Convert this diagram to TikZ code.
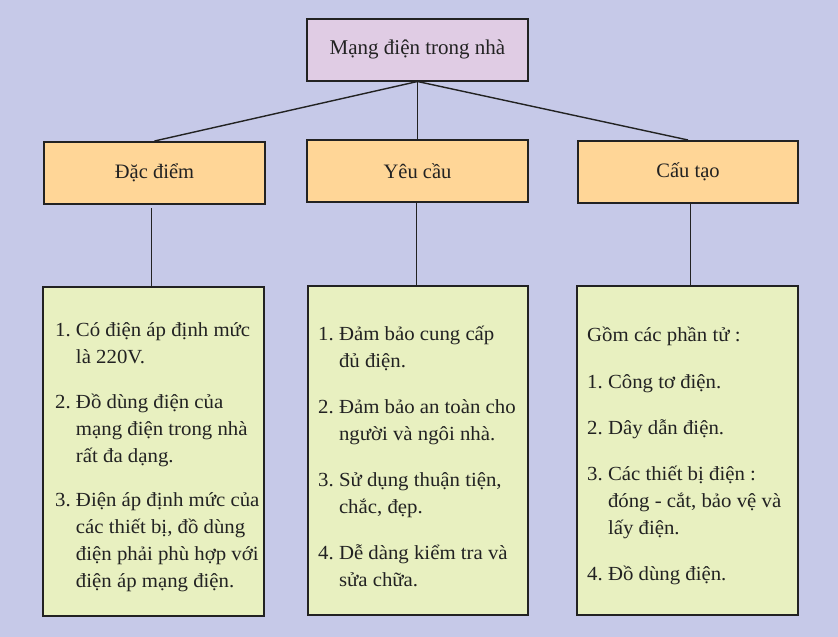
\documentclass[tikz,border=0pt]{standalone}
\usepackage{fontspec}
\setmainfont{Liberation Serif}
\newfontfamily\bodyfont[FakeStretch=1.04]{Liberation Serif}
\definecolor{bgc}{HTML}{C6C9E8}
\definecolor{topc}{HTML}{E0CCE4}
\definecolor{midc}{HTML}{FFD697}
\definecolor{lowc}{HTML}{E8F0C0}
\definecolor{ink}{HTML}{222222}
\begin{document}
\begin{tikzpicture}[x=1pt,y=-1pt,
  boxst/.style={draw=ink,line width=2pt,inner sep=0pt,text=ink},
  topbox/.style={boxst,fill=topc,minimum width=221pt,minimum height=62pt,font=\fontsize{21}{25}\selectfont},
  midbox/.style={boxst,fill=midc,minimum width=221pt,minimum height=62pt,font=\fontsize{20.5}{25}\selectfont},
  lowbox/.style={boxst,fill=lowc,minimum width=221pt,minimum height=329pt},
  txt/.style={inner sep=0pt,anchor=base west,text=ink,font=\bodyfont\fontsize{20}{27}\selectfont},
  link/.style={draw=ink,line width=1.4pt}]
\fill[bgc] (0,0) rectangle (838,637);
\node[topbox] (top) at (417.5,49.5) {Mạng điện trong nhà};
\node[midbox] (a) at (154.5,173) {Đặc điểm};
\node[midbox] (b) at (417.5,171) {Yêu cầu};
\node[midbox,minimum width=220pt] (c) at (688,172) {Cấu tạo};
\node[lowbox] (la) at (153.5,451.5) {};
\node[lowbox,minimum width=220pt] (lb) at (418,450.5) {};
\node[lowbox] (lc) at (687.5,450.5) {};
\draw[link] (top.south) -- (a.north);
\draw[link] (top.south) -- (b.north);
\draw[link] (top.south) -- (c.north);
\draw[link] ([xshift=-3pt,yshift=-3pt]a.south) -- ([xshift=-3pt]a.south |- la.north);
\draw[link] ([xshift=-1pt]b.south) -- ([xshift=-1pt]b.south |- lb.north);
\draw[link] ([xshift=2.5pt]c.south) -- ([xshift=2.5pt]c.south |- lc.north);
\node[txt] (ta) at (55,336.5) {\begin{tabular}[t]{@{}l@{\ }l@{}}
1. & Có điện áp định mức\\
   & là 220V.\\[17.5pt]
2. & Đồ dùng điện của\\
   & mạng điện trong nhà\\
   & rất đa dạng.\\[17.5pt]
3. & Điện áp định mức của\\
   & các thiết bị, đồ dùng\\
   & điện phải phù hợp với\\
   & điện áp mạng điện.
\end{tabular}};
\node[txt] (tb) at (318,340) {\begin{tabular}[t]{@{}l@{\ }l@{}}
1. & Đảm bảo cung cấp\\
   & đủ điện.\\[19pt]
2. & Đảm bảo an toàn cho\\
   & người và ngôi nhà.\\[19pt]
3. & Sử dụng thuận tiện,\\
   & chắc, đẹp.\\[19pt]
4. & Dễ dàng kiểm tra và\\
   & sửa chữa.
\end{tabular}};
\node[txt] (tc) at (587,341.5) {\begin{tabular}[t]{@{}l@{\ }l@{}}
\multicolumn{2}{@{}l@{}}{Gồm các phần tử :}\\[19.5pt]
1. & Công tơ điện.\\[19pt]
2. & Dây dẫn điện.\\[19pt]
3. & Các thiết bị điện :\\
   & đóng - cắt, bảo vệ và\\
   & lấy điện.\\[19pt]
4. & Đồ dùng điện.
\end{tabular}};
\end{tikzpicture}
\end{document}
